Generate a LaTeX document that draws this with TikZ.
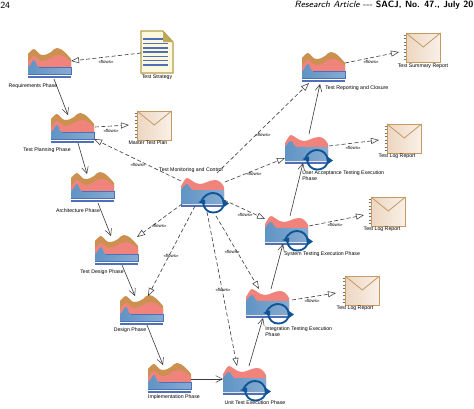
\documentclass[tikz,border=0pt]{standalone}
\usepackage{fontspec}
\setmainfont{Liberation Sans}
\newfontfamily\headfont{Latin Modern Sans}
\usetikzlibrary{arrows.meta}
\definecolor{mbrown}{HTML}{CC9150}
\definecolor{mpink}{HTML}{F0847C}
\definecolor{mblueL}{HTML}{5F94C4}
\definecolor{mblueR}{HTML}{86ABD2}
\definecolor{mbar}{HTML}{4F70B8}
\definecolor{mcirc}{HTML}{0F5596}
\definecolor{envedge}{HTML}{C49A62}
\definecolor{envL}{HTML}{EDD6C0}
\definecolor{envR}{HTML}{F9F0E8}
\definecolor{docedge}{HTML}{B5A04C}
\definecolor{docfill}{HTML}{FBF8DE}
\definecolor{docfold}{HTML}{C2A956}
\definecolor{conn}{HTML}{3A3A3A}
\tikzset{
  x=0.75pt,y=-0.75pt,
  anchorbox/.style={inner sep=0pt,outer sep=0pt,minimum width=32.25pt,minimum height=22.5pt},
  lbl/.style={font=\fontsize{3.9}{4.6}\selectfont,text=black,inner sep=0pt,align=left},
  flowlbl/.style={font=\fontsize{3.3}{4}\selectfont,text=black,inner sep=0pt},
  seq/.style={draw=conn,line width=0.45pt,-{Straight Barb[length=5pt,width=5pt,line width=0.4pt]}},
  flow/.style={draw=conn,line width=0.45pt,dash pattern=on 3pt off 1.8pt,-{Triangle[open,fill=white,length=6pt,width=4.5pt,line width=0.4pt]}},
}
% name, x, y: plain phase
\newcommand{\phaseA}[3]{%
\begin{scope}[shift={(#2,#3)}]
 \node[anchorbox,anchor=north west] (#1) at (0,0) {};
 \fill[mbrown] (0,26) -- (0,6) .. controls (2,4) and (4,1) .. (6,1) .. controls (9,2) and (11,7) .. (14,7)
   .. controls (18,7) and (20,6) .. (23,4) .. controls (25,2) and (27,0) .. (29,0) .. controls (34,0) and (39,6) .. (43,11) -- (43,26) -- cycle;
 \fill[mpink] (0,26) -- (0,14) .. controls (2,12) and (4,8) .. (6,8) .. controls (9,9) and (11,13) .. (14,13)
   .. controls (20,14) and (24,7) .. (31,7) .. controls (35,7) and (40,11) .. (43,14) -- (43,26) -- cycle;
 \shade[left color=mblueL,right color=mblueR] (0,26) -- (0,19) .. controls (3,18) and (4,12) .. (6,12) .. controls (8,12) and (8,19) .. (11,19) -- (43,19) -- (43,26) -- cycle;
 \draw[mbar,line width=0.35pt] (0,26) -- (43,26) -- (43,19) -- (11,19);
 \fill[mbar] (0,28) rectangle (43,30);
\end{scope}}
% name, x, y: executing phase
\newcommand{\phaseB}[3]{%
\begin{scope}[shift={(#2,#3)}]
 \node[anchorbox,anchor=north west] (#1) at (0,0) {};
 \fill[mpink] (0,26) -- (0,8) .. controls (2,5) and (4,0) .. (6,0) .. controls (9,0) and (13,6) .. (19,6)
   .. controls (24,6) and (28,2) .. (34,2) .. controls (38,2) and (41,5) .. (43,9) -- (43,26) -- cycle;
 \shade[left color=mblueL,right color=mblueR] (0,26) -- (0,12) .. controls (2,10) and (4,6) .. (6,6) .. controls (8,6) and (9,12) .. (12,12) -- (43,12) -- (43,26) -- cycle;
 \fill[mbar] (0,27) rectangle (43,29);
 \draw[mcirc,line width=1.4pt] (20,24) .. controls (23,17) and (28,15) .. (32,15) .. controls (38,15) and (42,19) .. (43,25);
 \draw[mcirc,line width=1.4pt] (42,29) .. controls (40,33) and (36,34.5) .. (32,34.5) .. controls (27,34.5) and (23,31) .. (22,25);
 \fill[mcirc] (41.5,21) -- (48,25.5) -- (41.5,30) -- cycle;
 \fill[mcirc] (24,21.5) -- (17,24) -- (24,26.5) -- cycle;
\end{scope}}
% name, x, y: envelope artefact
\newcommand{\envelope}[3]{%
\begin{scope}[shift={(#2,#3)}]
 \node[inner sep=0pt,outer sep=0pt,minimum width=26pt,minimum height=21.75pt,anchor=north west] (#1) at (0,0) {};
 \shade[left color=envL,right color=envR] (0,0) rectangle (34.5,29);
 \draw[envedge,line width=0.7pt] (0,0) rectangle (34.5,29);
 \draw[envedge,line width=0.6pt] (0,0) -- (17.25,14) -- (34.5,0);
 \foreach \t in {2,5.5,...,28} \draw[black!55,line width=0.25pt] (-2.5,\t) -- (-0.5,\t);
\end{scope}}
\begin{document}
\begin{tikzpicture}
\useasboundingbox (0,0) rectangle (474,408);
\fill[white] (0,0) rectangle (474,408);
% page header
\node[anchor=west,inner sep=0pt,font=\headfont\fontsize{7}{8}\selectfont] (pageno) at (0,5) {24};
\node[anchor=east,inner sep=0pt,font=\headfont\fontsize{6.8}{8}\selectfont] (pagehead) at (473.5,5.5) {\textit{Research Article} --- \textbf{SACJ, No. 47., July 20}};
% phases
\phaseA{req}{28}{48}
\phaseA{pln}{51}{113}
\phaseA{arc}{71}{172}
\phaseA{tdz}{95}{235}
\phaseA{dsn}{120}{295}
\phaseA{imp}{148}{363}
\phaseA{rep}{302}{52}
\phaseB{mon}{181}{178}
\phaseB{uat}{285}{135}
\phaseB{sys}{265}{216}
\phaseB{itg}{246}{289}
\phaseB{unt}{223}{366}
% test strategy document
\begin{scope}[shift={(141,31)}]
 \node[inner sep=0pt,outer sep=0pt,minimum width=24pt,minimum height=31.5pt,anchor=north west] (str) at (0,0) {};
 \fill[docfill] (0,0) -- (22,0) -- (32,11) -- (32,42) -- (0,42) -- cycle;
 \foreach \t in {8,12.5,16.8,21,25.3,29.7,34} \fill[mbar] (2,\t-0.7) rectangle (27,\t+0.7);
 \fill[docfold] (22,0) -- (32,11) -- (22,11) -- cycle;
 \draw[docedge,line width=0.8pt] (0,0) -- (22,0) -- (32,11) -- (32,42) -- (0,42) -- cycle;
\end{scope}
\envelope{mtp}{137}{111}
\envelope{sum}{406}{33}
\envelope{lga}{387}{124}
\envelope{lgb}{371}{197}
\envelope{lgc}{345}{276}
% sequence flow
\draw[seq] ([shift={(26,31)}]req.north west) -- ([shift={(17,2)}]pln.north west);
\draw[seq] ([shift={(27,30)}]pln.north west) -- ([shift={(16,2)}]arc.north west);
\draw[seq] ([shift={(27,31)}]arc.north west) -- ([shift={(16,1)}]tdz.north west);
\draw[seq] ([shift={(27,30)}]tdz.north west) -- ([shift={(15,1)}]dsn.north west);
\draw[seq] ([shift={(27,30)}]dsn.north west) -- ([shift={(15,2)}]imp.north west);
\draw[seq] ([shift={(43,16)}]imp.north west) -- ([shift={(0,13)}]unt.north west);
\draw[seq] ([shift={(26,0)}]unt.north west) -- ([shift={(17,29)}]itg.north west);
\draw[seq] ([shift={(25,0)}]itg.north west) -- ([shift={(18,28)}]sys.north west);
\draw[seq] ([shift={(25,0)}]sys.north west) -- ([shift={(18,28)}]uat.north west);
\draw[seq] ([shift={(24,-1)}]uat.north west) -- ([shift={(18,32)}]rep.north west);
% flows
\draw[flow] ([shift={(0,22)}]str.north west) -- ([shift={(43,13)}]req.north west);
\draw[flow] ([shift={(44,14)}]pln.north west) -- ([shift={(-8,14)}]mtp.north west);
\draw[flow] ([shift={(0,3)}]mon.north west) -- ([shift={(43,26)}]pln.north west);
\draw[flow] ([shift={(1,26)}]mon.north west) -- ([shift={(42,2)}]tdz.north west);
\draw[flow] ([shift={(14,28)}]mon.north west) -- ([shift={(28,1)}]dsn.north west);
\draw[flow] ([shift={(26,34)}]mon.north west) -- ([shift={(14,0)}]unt.north west);
\draw[flow] ([shift={(35,38)}]mon.north west) -- ([shift={(13,0)}]itg.north west);
\draw[flow] ([shift={(43,22)}]mon.north west) -- ([shift={(0,3)}]sys.north west);
\draw[flow] ([shift={(44,4)}]mon.north west) -- ([shift={(0,23)}]uat.north west);
\draw[flow] ([shift={(36,-5)}]mon.north west) -- ([shift={(7,31)}]rep.north west);
\draw[flow] ([shift={(43,11)}]rep.north west) -- ([shift={(-7,19)}]sum.north west);
\draw[flow] ([shift={(44,11)}]uat.north west) -- ([shift={(-8,16)}]lga.north west);
\draw[flow] ([shift={(44,10)}]sys.north west) -- ([shift={(-7,18)}]lgb.north west);
\draw[flow] ([shift={(46,11)}]itg.north west) -- ([shift={(-9,17)}]lgc.north west);
% flow labels
\foreach \n/\p in {a/{106,62},b/{111,131},c/{138,165},d/{159,226},e/{171,256},f/{223,290},g/{232,252},h/{245,215},i/{254,174},j/{263,135},k/{371,62},l/{353,148},m/{335,225},n/{312,301}}
  \node[flowlbl] (flow\n) at (\p) {«flows»};
% labels
\node[lbl] (lreq) at (33,86) {Requirements Phase};
\node[lbl] (lpln) at (47,150) {Test Planning Phase};
\node[lbl] (larc) at (78,211) {Architecture Phase};
\node[lbl] (ltdz) at (102,272) {Test Design Phase};
\node[lbl] (ldsn) at (130,330) {Design Phase};
\node[lbl] (limp) at (174,397) {Implementation Phase};
\node[lbl] (lunt) at (255,403) {Unit Test Execution Phase};
\node[lbl,anchor=west] (litg) at (265,332) {Integration Testing Execution\\Phase};
\node[lbl,anchor=west] (lsys) at (284,254) {System Testing Execution Phase};
\node[lbl,anchor=west] (luat) at (302,176) {User Acceptance Testing Execution\\Phase};
\node[lbl,anchor=west] (lrep) at (325,88) {Test Reporting and Closure};
\node[lbl] (lmon) at (191,170) {Test Monitoring and Control};
\node[lbl] (lstr) at (157,77) {Test Strategy};
\node[lbl] (lmtp) at (148,143) {Master Test Plan};
\node[lbl] (lsum) at (423,66) {Test Summary Report};
\node[lbl] (llga) at (397,156) {Test Log Report};
\node[lbl] (llgb) at (382,229) {Test Log Report};
\node[lbl] (llgc) at (355,308) {Test Log Report};
\end{tikzpicture}
\end{document}
